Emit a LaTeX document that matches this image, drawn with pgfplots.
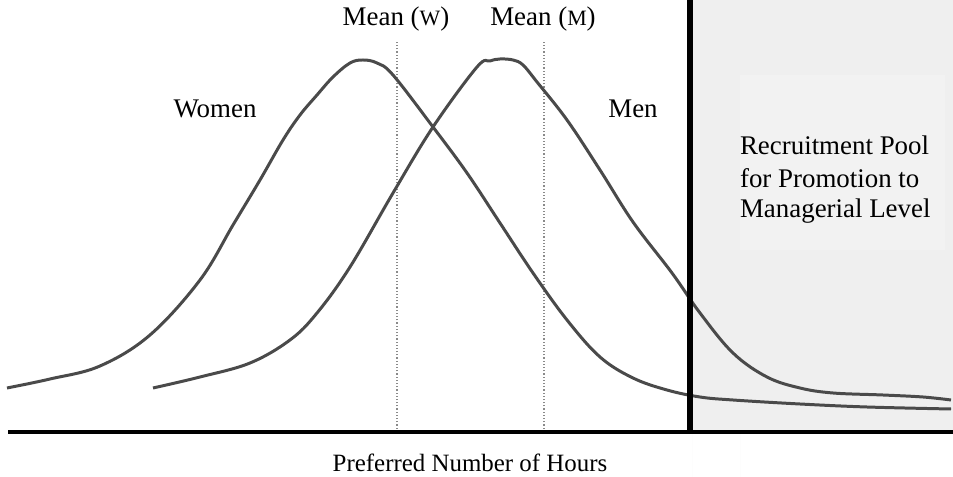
\documentclass[border=0pt]{standalone}
\usepackage{fontspec}
\setmainfont{Liberation Serif}
\usepackage{pgfplots}
\pgfplotsset{compat=1.18}
\definecolor{curve}{HTML}{4A4A4A}
\definecolor{pool}{HTML}{EFEFEF}
\definecolor{poolbox}{HTML}{F2F2F2}
\definecolor{meanline}{HTML}{8A8A8A}
\newcommand{\smallcap}[1]{{\fontsize{11}{12}\selectfont #1}}

% coordinates are in pixels of the original figure, y measured from the bottom
\begin{document}
\begin{tikzpicture}
\begin{axis}[
 scale only axis,width=476.5bp,height=238.5bp,
 xmin=0,xmax=953,ymin=0,ymax=477,
 hide axis,clip=false,
 every node/.append style={inner sep=0pt},
 font=\fontsize{13.5}{16}\selectfont]
% recruitment pool area
\addplot[draw=none,fill=pool] coordinates {(692,45) (953,45) (953,477) (692,477)} \closedcycle;
\addplot[draw=none,fill=poolbox] coordinates {(740,227) (945,227) (945,402) (740,402)} \closedcycle;
% mean lines
\addplot[meanline,line width=0.6pt,densely dotted] coordinates {(397,45) (397,437)};
\addplot[meanline,line width=0.6pt,densely dotted] coordinates {(544,45) (544,437)};
% women
\addplot[curve,line width=1.5pt,smooth,tension=0.6] coordinates {
 (7,89) (50,98) (100,111) (150,142) (200,197) (233,252) (260,297) (283,337)
 (300,362) (317,382) (333,400) (350,414) (363,417) (377,414) (393,402) (433,350)
 (467,304) (500,254) (533,204) (567,157) (600,120) (633,99) (667,87)
 (700,80) (733,77) (800,73) (867,70) (951,68)};
% men
\addplot[curve,line width=1.5pt,smooth,tension=0.6] coordinates {
 (153,89) (200,100) (250,114) (290,137) (317,164) (350,210) (393,284)
 (433,350) (477,410) (490,416) (500,418) (513,417) (523,412) (537,395)
 (567,357) (600,307) (633,255) (672,204) (700,164) (733,124) (767,100)
 (800,89) (833,84) (883,82) (923,80) (951,77)};
% cut-off and baseline
\addplot[black,line width=2.6pt] coordinates {(690,45) (690,477)};
\addplot[black,line width=2pt] coordinates {(8,45) (953,45)};
% labels
\node[anchor=base] at (axis cs:396,451) {Mean (\smallcap{W})};
\node[anchor=base] at (axis cs:543,451) {Mean (\smallcap{M})};
\node[anchor=base] at (axis cs:215,359) {Women};
\node[anchor=base] at (axis cs:633,359) {Men};
\node[anchor=base west] at (axis cs:733,322) {Recruitment Pool};
\node[anchor=base west] at (axis cs:733,289) {for Promotion to};
\node[anchor=base west] at (axis cs:733,259) {Managerial Level};
\node[anchor=base,font=\fontsize{12.5}{15}\selectfont] at (axis cs:470,6) {Preferred Number of Hours};
\coordinate (sw) at (axis cs:0,0);
\coordinate (ne) at (axis cs:953,477);
\end{axis}
\pgfresetboundingbox
\useasboundingbox (sw) rectangle (ne);
\end{tikzpicture}
\end{document}
